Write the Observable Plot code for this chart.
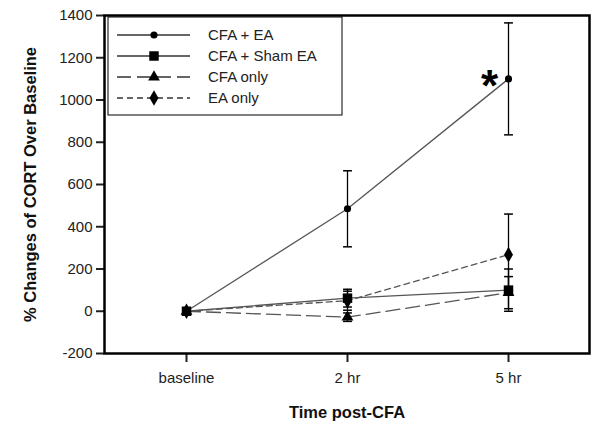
<!DOCTYPE html>
<html><head><meta charset="utf-8">
<script src="https://cdn.jsdelivr.net/npm/d3@7"></script>
<script src="https://cdn.jsdelivr.net/npm/@observablehq/plot@0.6"></script>
<style>
body{margin:0;background:#fff;}
g[aria-label="x-axis label"] text, g[aria-label="y-axis label"] text{font-weight:bold;font-size:16.5px;fill:#111;}
</style>
</head><body><div id="chart"></div>
<script>
const times = ["baseline", "2 hr", "5 hr"];
const seriesNames = ["CFA + EA", "CFA + Sham EA", "CFA only", "EA only"];
const cfaEA = [0, 485, 1100];
const cfaEAerr = [0, 180, 265];
const cfaSham = [0, 62, 100];
const cfaShamErr = [0, 42, 100];
const cfaOnly = [0, -28, 88];
const cfaOnlyErr = [0, 20, 76];
const eaOnly = [0, 50, 268];
const eaOnlyErr = [0, 45, 192];
const yTicks = [-200, 0, 200, 400, 600, 800, 1000, 1200, 1400];

const vals = [cfaEA, cfaSham, cfaOnly, eaOnly];
const errs = [cfaEAerr, cfaShamErr, cfaOnlyErr, eaOnlyErr];
const symbols = ["circle", "square", "triangle", "diamond"];
const symSize = [40, 90, 60, 70];
const dashes = [null, null, "14,6", "6,4"];

const data = [];
seriesNames.forEach((s, i) => times.forEach((t, j) => data.push({series: s, idx: i, time: t, v: vals[i][j], e: errs[i][j]})));

const capSymbol = {draw(ctx, size) { const w = Math.sqrt(size) / 2; ctx.moveTo(-w, 0); ctx.lineTo(w, 0); }};

const marks = [];
seriesNames.forEach((s, i) => {
  marks.push(Plot.line(data.filter(d => d.idx === i), {x: "time", y: "v", stroke: "#555", strokeWidth: 1.3, strokeDasharray: dashes[i]}));
});
const errData = data.filter(d => d.e > 0);
marks.push(Plot.ruleX(errData, {x: "time", y1: d => d.v - d.e, y2: d => d.v + d.e, stroke: "#000", strokeWidth: 1.3}));
marks.push(Plot.dot(errData, {x: "time", y: d => d.v + d.e, symbol: capSymbol, r: 5, stroke: "#000", strokeWidth: 1.5, fill: "none"}));
marks.push(Plot.dot(errData, {x: "time", y: d => d.v - d.e, symbol: capSymbol, r: 5, stroke: "#000", strokeWidth: 1.5, fill: "none"}));
[3, 2, 1, 0].forEach(i => {
  marks.push(Plot.dot(data.filter(d => d.idx === i), {x: "time", y: "v", symbol: symbols[i], fill: "#000", stroke: "none", r: Math.sqrt(symSize[i] / Math.PI)}));
});
marks.push(Plot.text([{time: times[2], v: cfaEA[2]}], {x: "time", y: "v", text: () => "*", dx: -19, dy: 8, fontSize: 44, fontWeight: "bold", fill: "#000"}));
marks.push(Plot.frame({stroke: "#000", strokeWidth: 2.5}));

const chart = Plot.plot({
  width: 600, height: 431,
  marginLeft: 104, marginRight: 11, marginTop: 15, marginBottom: 78,
  style: {fontFamily: "'Liberation Sans', Arial, sans-serif", fontSize: "15px", color: "#222", background: "#fff"},
  x: {type: "point", domain: times, padding: 0.5, label: "Time post-CFA", labelAnchor: "center", labelOffset: 64, tickSize: 9, tickPadding: 10},
  y: {domain: [-200, 1400], ticks: yTicks, tickFormat: d => String(d), label: "% Changes of CORT Over Baseline", labelAnchor: "center", labelArrow: "none", labelOffset: 80, tickSize: 8, tickPadding: 4},
  marks
});
d3.select(chart).selectAll('g[aria-label="x-axis tick"] path, g[aria-label="y-axis tick"] path').attr("stroke-width", 2);

// legend inside the frame (layout only)
const svg = d3.select(chart);
const lg = svg.append("g").attr("text-anchor", "start");
lg.append("rect").attr("x", 108).attr("y", 17).attr("width", 234).attr("height", 98).attr("fill", "#fff").attr("stroke", "#000").attr("stroke-width", 1);
const rowsY = [35, 56, 77, 98];
seriesNames.forEach((s, i) => {
  const y = rowsY[i];
  lg.append("line").attr("x1", 117).attr("x2", 190).attr("y1", y).attr("y2", y).attr("stroke", "#333").attr("stroke-width", 1.3).attr("stroke-dasharray", dashes[i]);
  const sym = d3.symbol().type([d3.symbolCircle, d3.symbolSquare, d3.symbolTriangle, d3.symbolDiamond][i]).size(symSize[i]);
  lg.append("path").attr("d", sym()).attr("transform", `translate(154,${y})`).attr("fill", "#000");
  lg.append("text").attr("x", 208).attr("y", y).attr("dy", "0.35em").attr("font-size", 15).attr("fill", "#222").text(s);
});
document.getElementById("chart").appendChild(chart);
</script>
</body></html>
